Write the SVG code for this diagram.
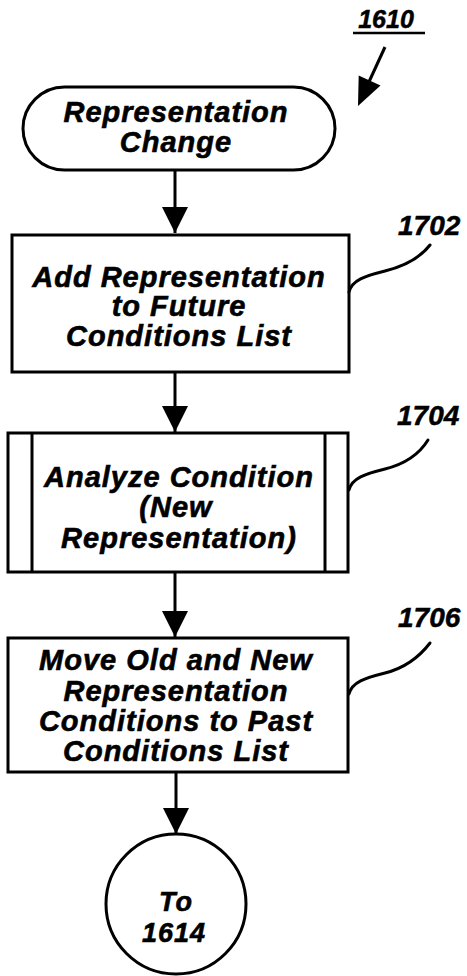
<svg xmlns="http://www.w3.org/2000/svg" width="467" height="976" viewBox="0 0 467 976">
<defs>
<style>
.shape{fill:#fff;stroke:#000;stroke-width:3}
.t{font-family:"Liberation Sans",Arial,sans-serif;font-weight:bold;font-style:italic;font-size:29px;letter-spacing:1px;text-anchor:middle;fill:#000;stroke:#000;stroke-width:0.6}
.lbl{font-family:"Liberation Sans",Arial,sans-serif;font-weight:bold;font-style:italic;font-size:28px;fill:#000;stroke:#000;stroke-width:0.5}
.line{fill:none;stroke:#000;stroke-width:3}
.lead{fill:none;stroke:#000;stroke-width:3;stroke-linecap:round}
</style>
<marker id="ah" viewBox="0 0 26 26" refX="26" refY="13" markerWidth="26" markerHeight="26" markerUnits="userSpaceOnUse" orient="auto">
<path d="M0,0 L26,13 L0,26 Z" fill="#000"/>
</marker>
</defs>

<g id="label-1610">
<text class="lbl" x="386" y="28" text-anchor="middle" style="font-size:25px">1610</text>
<line x1="353" y1="33" x2="425" y2="33" stroke="#000" stroke-width="2.5"/>
<line x1="385" y1="47" x2="368" y2="84" stroke="#000" stroke-width="3"/>
<polygon points="358,106 358.7,75.6 380.5,85.6" fill="#000"/>
</g>

<g id="start">
<rect class="shape" x="23" y="87" width="312" height="83" rx="41.5" ry="41.5"/>
<text class="t" x="176" y="122">Representation</text>
<text class="t" x="176" y="152">Change</text>
</g>

<g id="n1702">
<rect class="shape" x="12" y="235" width="337" height="137"/>
<text class="t" x="179" y="287">Add Representation</text>
<text class="t" x="179" y="316">to Future</text>
<text class="t" x="179" y="346">Conditions List</text>
<text class="lbl" x="398" y="235">1702</text>
<path class="lead" d="M349,292 C352,280 365,276 385,271 C405,266 420,258 430,245"/>
</g>

<g id="n1704">
<rect class="shape" x="8" y="433" width="340" height="139"/>
<line class="line" x1="32" y1="433" x2="32" y2="572"/>
<line class="line" x1="325" y1="433" x2="325" y2="572"/>
<text class="t" x="179" y="487">Analyze Condition</text>
<text class="t" x="176" y="517">(New</text>
<text class="t" x="179" y="548">Representation)</text>
<text class="lbl" x="397" y="425">1704</text>
<path class="lead" d="M349,490 C352,478 365,474 385,469 C405,464 420,453 428,440"/>
</g>

<g id="n1706">
<rect class="shape" x="8" y="638" width="340" height="134"/>
<text class="t" x="176" y="670">Move Old and New</text>
<text class="t" x="176" y="701">Representation</text>
<text class="t" x="176" y="731">Conditions to Past</text>
<text class="t" x="176" y="761">Conditions List</text>
<text class="lbl" x="398" y="627">1706</text>
<path class="lead" d="M349,694 C352,682 365,678 385,673 C405,668 420,656 430,643"/>
</g>

<g id="end">
<circle class="shape" cx="176" cy="904" r="70"/>
<text class="t" x="176" y="911" style="font-size:27px">To</text>
<text class="t" x="174" y="942" style="font-size:27px">1614</text>
</g>

<g id="connectors">
<line class="line" x1="175" y1="170" x2="175" y2="233" marker-end="url(#ah)"/>
<line class="line" x1="175" y1="372" x2="175" y2="432" marker-end="url(#ah)"/>
<line class="line" x1="175" y1="572" x2="175" y2="637" marker-end="url(#ah)"/>
<line class="line" x1="176" y1="772" x2="176" y2="834" marker-end="url(#ah)"/>
</g>
</svg>
